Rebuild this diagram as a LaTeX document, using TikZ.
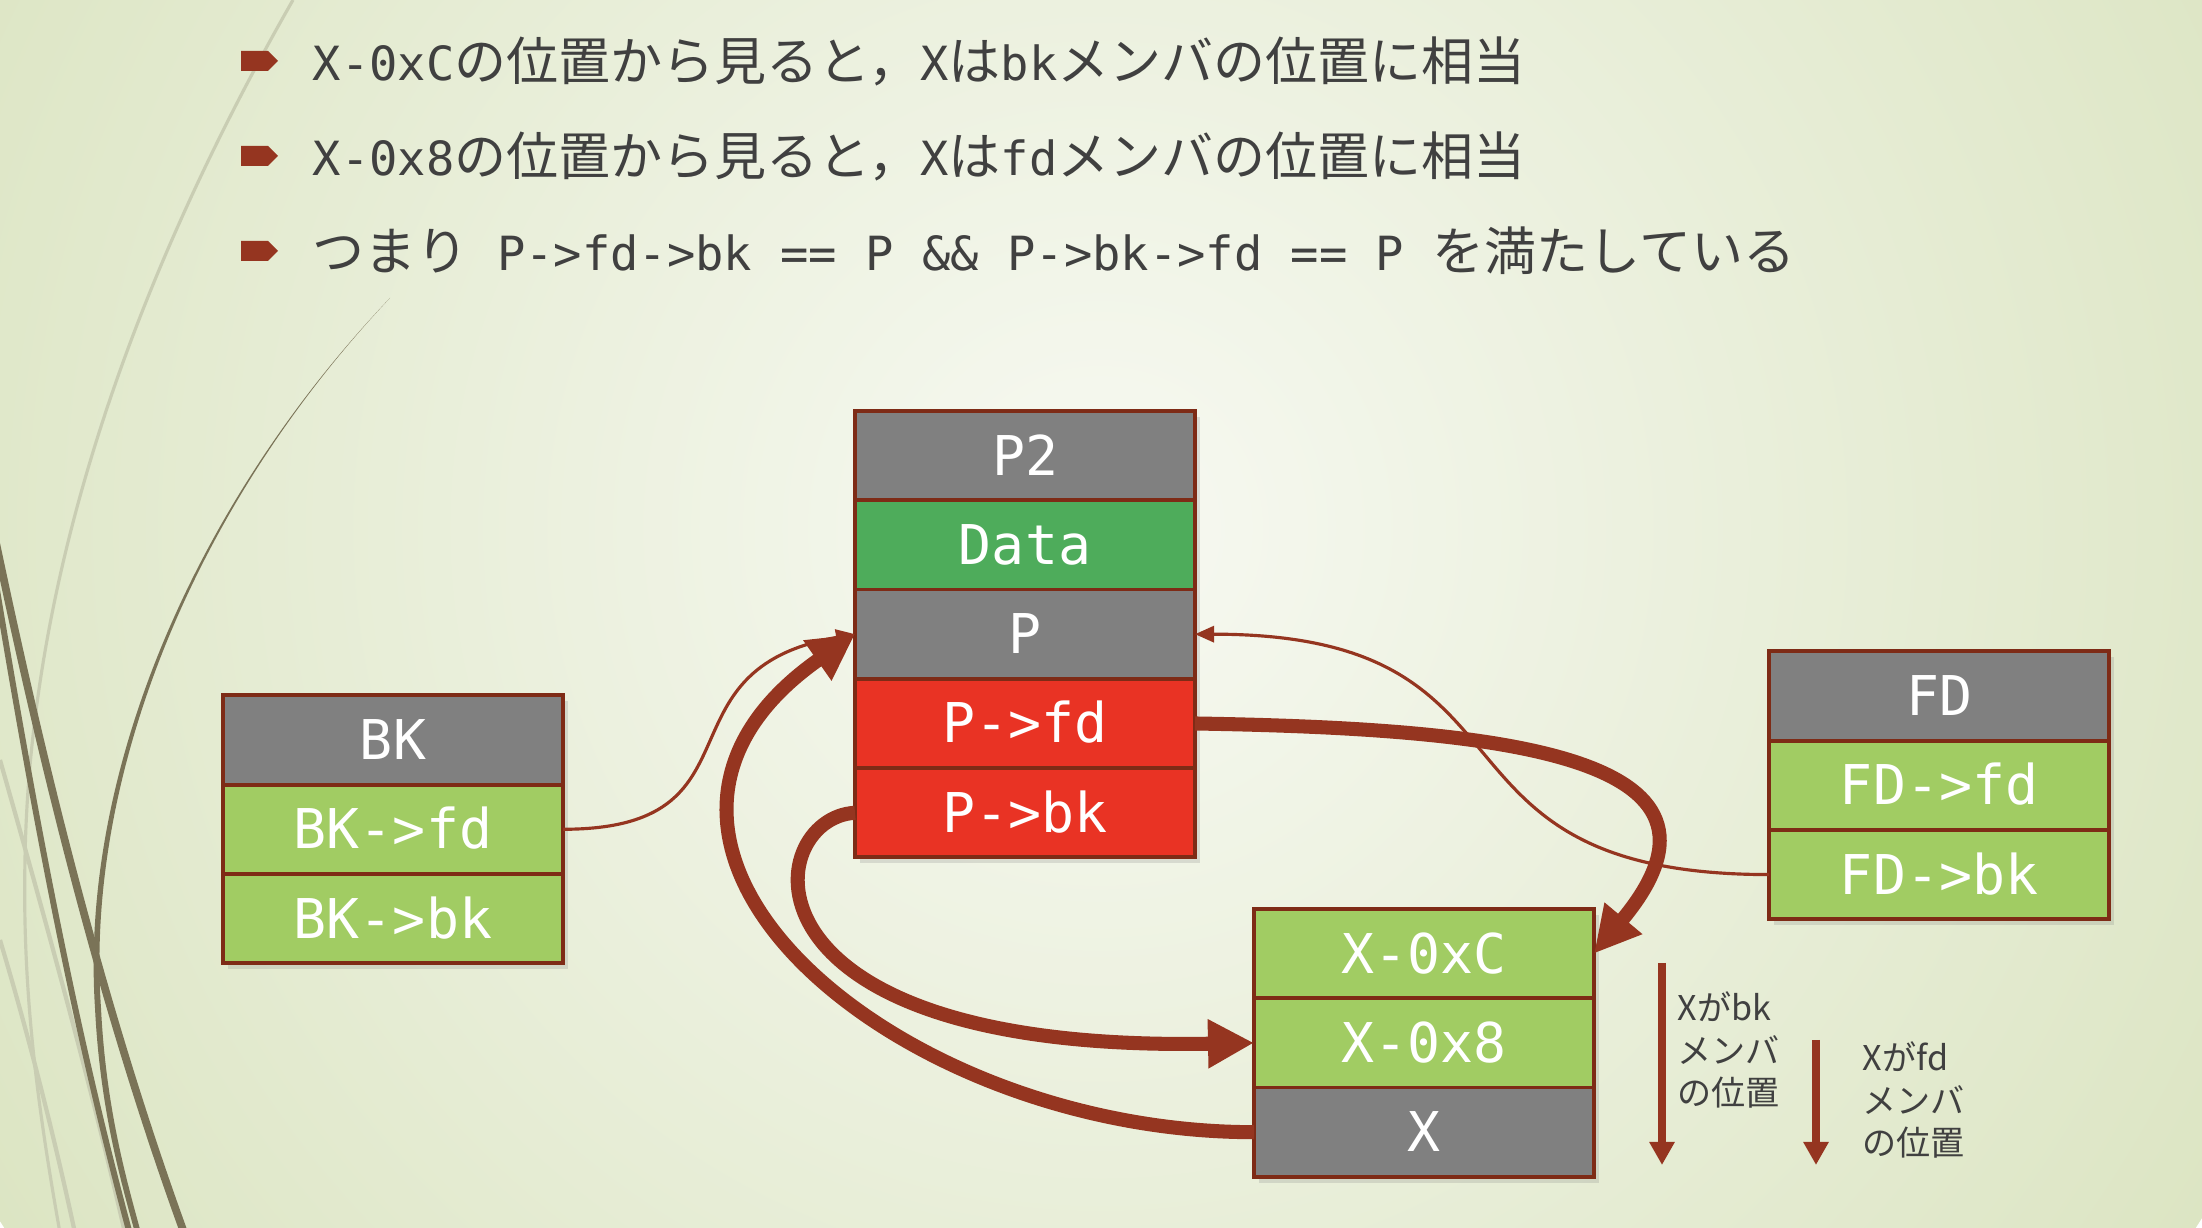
\documentclass[tikz,border=0pt]{standalone}
\usepackage{fontspec}
\setmonofont{DejaVu Sans Mono}
\newfontfamily\jp{Noto Sans CJK JP}
\usepackage{tikz}
\usetikzlibrary{arrows.meta,positioning,shapes.symbols,shadows}

\definecolor{bgin}{HTML}{F7F9F2}
\definecolor{bgout}{HTML}{DCE5C3}
\definecolor{wisp}{HTML}{7A7357}
\definecolor{wisplight}{HTML}{C9CDB3}
\definecolor{rust}{HTML}{953520}
\definecolor{edge}{HTML}{7E2B16}
\definecolor{cgray}{HTML}{808080}
\definecolor{cdata}{HTML}{4EAC5B}
\definecolor{cred}{HTML}{E93324}
\definecolor{clime}{HTML}{A1CC63}
\definecolor{ink}{HTML}{404040}

\newcommand{\mono}[1]{{\ttfamily\fontsize{13.4pt}{16pt}\selectfont#1}}

\begin{document}
\begin{tikzpicture}[x=1cm,y=1cm]
  \tikzset{
    cell/.style={draw=edge, line width=1.1pt, minimum width=3.4cm, minimum height=0.893cm, inner sep=0pt, outer sep=0pt, text=white, text height=0.39cm, text depth=0cm, font=\ttfamily\fontsize{15.6pt}{18pt}\selectfont, drop shadow={shadow xshift=0.05cm, shadow yshift=-0.06cm, opacity=0.22}},
    bul/.style={signal, signal to=east, fill=rust, minimum width=0.37cm, minimum height=0.2cm, inner sep=0pt},
    point/.style={inner sep=0pt, text=ink, font=\jp\fontsize{14.8pt}{17pt}\selectfont},
    note/.style={inner sep=0pt, align=left, text=ink, font=\jp\fontsize{9.7pt}{12pt}\selectfont},
    link/.style={rust, line width=0.9pt, -{Triangle[length=0.19cm, width=0.16cm]}},
    jump/.style={rust, line width=4pt, -{Triangle[length=0.46cm, width=0.46cm]}},
    fall/.style={rust, line width=2.3pt, -{Triangle[length=0.23cm, width=0.24cm]}}
  }

  % Background
  \useasboundingbox (0,0) rectangle (22.02,12.28);
  \begin{scope}
    \clip (0,0) rectangle (22.02,12.28);
    \shade[inner color=bgin, outer color=bgout] (11,7.0) circle (13);
    \draw[wisplight, line width=0.9pt] (2.93,12.28) .. controls (1.5,9.78) and (0.3,6.78) .. (0.25,3.68) .. controls (0.22,2.28) and (0.40,1.08) .. (0.60,-0.05);
    \draw[wisplight, line width=1.2pt] (0,4.68) .. controls (0.4,3.28) and (0.9,1.48) .. (1.25,-0.05);
    \draw[wisplight, line width=1.2pt] (0,2.88) .. controls (0.3,1.88) and (0.55,0.88) .. (0.75,-0.05);
    \draw[wisp, line width=2.2pt] (-0.05,6.9) .. controls (0.5,4.28) and (1.10,1.98) .. (1.86,-0.1);
    \draw[wisp, line width=1.7pt] (-0.05,6.5) .. controls (0.4,3.78) and (0.8,1.78) .. (1.31,-0.1);
    \fill[wisp] (3.90,9.30) .. controls (1.90,7.20) and (0.80,4.50) .. (0.95,2.20)
      .. controls (1.00,1.20) and (1.20,0.50) .. (1.35,-0.05) -- (1.41,-0.05)
      .. controls (1.26,0.50) and (1.06,1.20) .. (1.01,2.20)
      .. controls (0.85,4.50) and (1.92,7.20) .. (3.90,9.30) -- cycle;
  \end{scope}

  % Bullet lines
  \node[bul] (b1) at (2.545,11.67) {};
  \node[bul] (b2) at (2.545,10.72) {};
  \node[bul] (b3) at (2.545,9.77) {};
  \node[point, right=0.33cm of b1] (t1) {\mono{X-0xC}の位置から見ると，\mono{X}は\mono{bk}メンバの位置に相当};
  \node[point, right=0.33cm of b2] (t2) {\mono{X-0x8}の位置から見ると，\mono{X}は\mono{fd}メンバの位置に相当};
  \node[point, right=0.33cm of b3] (t3) {つまり\mono{~P->fd->bk == P \&\& P->bk->fd == P~}を満たしている};

  % X positions
  \def\xB{3.93}
  \def\xP{10.25}
  \def\xX{14.24}
  \def\xF{19.39}

  % Chunk P2
  \node[cell, fill=cgray] (p2) at (\xP,7.724) {P2};
  \node[cell, fill=cdata, below=0pt of p2] (data) {Data};
  \node[cell, fill=cgray, below=0pt of data] (p) {P};
  \node[cell, fill=cred, below=0pt of p] (pfd) {P->fd};
  \node[cell, fill=cred, below=0pt of pfd] (pbk) {P->bk};

  % Chunk BK
  \node[cell, fill=cgray] (bk) at (\xB,4.88) {BK};
  \node[cell, fill=clime, below=0pt of bk] (bkfd) {BK->fd};
  \node[cell, fill=clime, below=0pt of bkfd] (bkbk) {BK->bk};

  % Chunk FD
  \node[cell, fill=cgray] (fd) at (\xF,5.32) {FD};
  \node[cell, fill=clime, below=0pt of fd] (fdfd) {FD->fd};
  \node[cell, fill=clime, below=0pt of fdfd] (fdbk) {FD->bk};

  % Fake chunk X
  \node[cell, fill=clime] (xc) at (\xX,2.744) {X-0xC};
  \node[cell, fill=clime, below=0pt of xc] (x8) {X-0x8};
  \node[cell, fill=cgray, below=0pt of x8] (xx) {X};

  % Links
  \draw[link] (bkfd.east) to[out=0, in=190, looseness=1.5] (p.west);
  \draw[link] (fdbk.west) to[out=180, in=0, looseness=1.5] (p.east);
  \draw[jump] (pfd.east) .. controls +(3,-0.05) and +(1.67,2.0) .. (xc.east);
  \draw[jump] (pbk.west) .. controls +(-0.93,-0.05) and +(-5.3,-0.1) .. (x8.west);
  \draw[jump] (xx.west) to[out=180, in=215, looseness=1.45] (p.west);

  % Member offsets
  \coordinate (s1) at (16.62,2.65);
  \coordinate (e1) at (16.62,0.63);
  \coordinate (s2) at (18.16,1.88);
  \coordinate (e2) at (18.16,0.63);
  \draw[fall] (s1) -- (e1);
  \draw[fall] (s2) -- (e2);
  \node[note, anchor=west] (n1) at (16.77,1.78) {Xがbk\\メンバ\\の位置};
  \node[note, anchor=west] (n2) at (18.62,1.28) {Xがfd\\メンバ\\の位置};

\end{tikzpicture}
\end{document}
